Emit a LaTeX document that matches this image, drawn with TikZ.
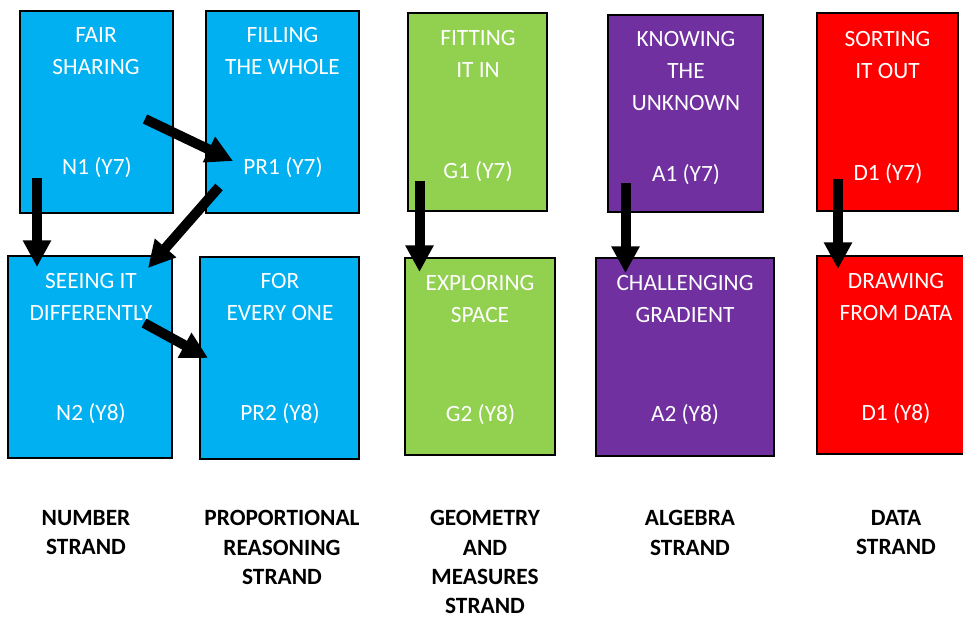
\documentclass[tikz,border=0pt]{standalone}
\usepackage{fontspec}
\setmainfont{Carlito}
\usetikzlibrary{arrows.meta}
\definecolor{cblue}{HTML}{00B0F0}
\definecolor{cgreen}{HTML}{92D050}
\definecolor{cpurple}{HTML}{7030A0}
\definecolor{cred}{HTML}{FF0000}
\newcommand\cbox[6]{\node[box, fill=#6, minimum width={(#4-#2)*0.75pt}, minimum height={(#5-#3)*0.75pt}] (#1) at ({(#2+#4)/2},{(#3+#5)/2}) {};}
\tikzset{
  box/.style={draw=black, line width=1pt, inner sep=0pt, outer sep=0pt},
  title/.style={text=white, align=center, inner sep=0pt, anchor=north, font=\fontsize{17.5}{24}\selectfont},
  code/.style={text=white, inner sep=0pt, anchor=base, font=\fontsize{17.5}{24}\selectfont},
  strand/.style={text=black, align=center, inner sep=0pt, anchor=north, font=\bfseries\fontsize{17.5}{22.1}\selectfont},
  conn/.style={line width=7.5pt, -{Triangle[length=20pt,width=20pt]}}
}
\begin{document}
\begin{tikzpicture}[x=0.75pt,y=-0.75pt]
\useasboundingbox (0,0) rectangle (963,617);
% boxes
\cbox{b1}{20}{11}{173}{213}{cblue}
\cbox{b2}{206}{11}{359}{213}{cblue}
\cbox{b3}{8}{256}{172}{458}{cblue}
\cbox{b4}{200}{257}{359}{459}{cblue}
\cbox{b5}{408}{13}{547}{211}{cgreen}
\cbox{b6}{405}{258}{555}{455}{cgreen}
\cbox{b7}{608}{15}{763}{212}{cpurple}
\cbox{b8}{596}{258}{774}{456}{cpurple}
\cbox{b9}{817}{13}{958}{211}{cred}
\cbox{b10}{817}{256}{970}{454}{cred}
% titles
\node[title] (t1) at (96,27.3) {FAIR\\SHARING};
\node[title] (t2) at (282.5,27.3) {FILLING\\THE WHOLE};
\node[title] (t3) at (91,273.3) {SEEING IT\\DIFFERENTLY};
\node[title] (t4) at (280,273.3) {FOR\\EVERY ONE};
\node[title] (t5) at (478,30.5) {FITTING\\IT IN};
\node[title] (t6) at (480,275) {EXPLORING\\SPACE};
\node[title] (t7) at (686,31.5) {KNOWING\\THE\\UNKNOWN};
\node[title] (t8) at (685,275) {CHALLENGING\\GRADIENT};
\node[title] (t9) at (887.5,31.5) {SORTING\\IT OUT};
\node[title] (t10) at (896,273.3) {DRAWING\\FROM DATA};
% codes
\node[code] (c1) at (97,174) {N1 (Y7)};
\node[code] (c2) at (283,174) {PR1 (Y7)};
\node[code] (c3) at (91,420) {N2 (Y8)};
\node[code] (c4) at (280,420) {PR2 (Y8)};
\node[code] (c5) at (478,178) {G1 (Y7)};
\node[code] (c6) at (480.5,421.7) {G2 (Y8)};
\node[code] (c7) at (686,181) {A1 (Y7)};
\node[code] (c8) at (685,421.7) {A2 (Y8)};
\node[code] (c9) at (888,180) {D1 (Y7)};
\node[code] (c10) at (896,420) {D1 (Y8)};
% strand labels
\node[strand] (s1) at (86,510) {NUMBER\\STRAND};
\node[strand] (s2) at (282,510) {PROPORTIONAL\\REASONING\\STRAND};
\node[strand] (s3) at (485,510) {GEOMETRY\\AND\\MEASURES\\STRAND};
\node[strand] (s4) at (690,510) {ALGEBRA\\STRAND};
\node[strand] (s5) at (896,510) {DATA\\STRAND};
% arrow end points
\coordinate (a1s) at (37,178);  \coordinate (a1e) at (37,267);
\coordinate (a2s) at (145,119); \coordinate (a2e) at (233,161);
\coordinate (a3s) at (219,187); \coordinate (a3e) at (148,268);
\coordinate (a4s) at (144,323); \coordinate (a4e) at (208,358);
\coordinate (a5s) at (419.5,181); \coordinate (a5e) at (419.5,272);
\coordinate (a6s) at (625.5,183); \coordinate (a6e) at (625.5,273);
\coordinate (a7s) at (838,179); \coordinate (a7e) at (838,269);
\draw[conn] (a1s) -- (a1e);
\draw[conn] (a2s) -- (a2e);
\draw[conn] (a3s) -- (a3e);
\draw[conn] (a4s) -- (a4e);
\draw[conn] (a5s) -- (a5e);
\draw[conn] (a6s) -- (a6e);
\draw[conn] (a7s) -- (a7e);
\end{tikzpicture}
\end{document}
